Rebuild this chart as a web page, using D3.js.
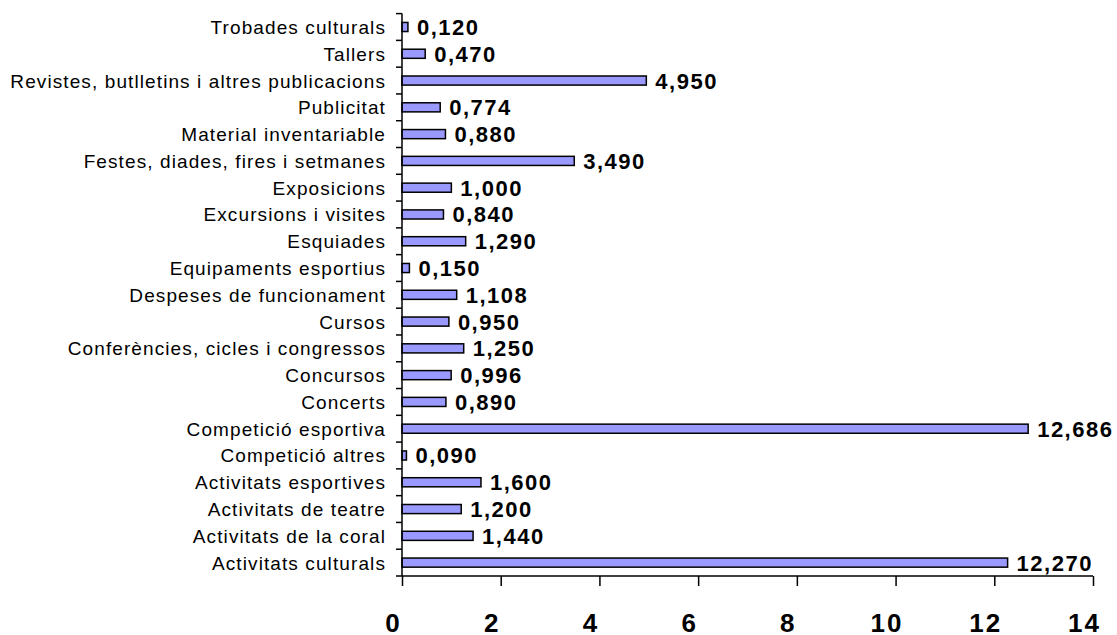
<!DOCTYPE html>
<html>
<head>
<meta charset="utf-8">
<script src="https://cdn.jsdelivr.net/npm/d3@7"></script>
<style>
  html, body { margin: 0; padding: 0; background: #ffffff; }
  svg { display: block; }
</style>
</head>
<body>
<svg id="chart" width="1117" height="635"></svg>
<script>
const categories = [
  "Trobades culturals",
  "Tallers",
  "Revistes, butlletins i altres publicacions",
  "Publicitat",
  "Material inventariable",
  "Festes, diades, fires i setmanes",
  "Exposicions",
  "Excursions i visites",
  "Esquiades",
  "Equipaments esportius",
  "Despeses de funcionament",
  "Cursos",
  "Conferències, cicles i congressos",
  "Concursos",
  "Concerts",
  "Competició esportiva",
  "Competició altres",
  "Activitats esportives",
  "Activitats de teatre",
  "Activitats de la coral",
  "Activitats culturals"
];
const values = [0.120, 0.470, 4.950, 0.774, 0.880, 3.490, 1.000, 0.840, 1.290, 0.150,
                1.108, 0.950, 1.250, 0.996, 0.890, 12.686, 0.090, 1.600, 1.200, 1.440, 12.270];
const xTicks = [0, 2, 4, 6, 8, 10, 12, 14];

const svg = d3.select("#chart");
const plotLeft = 402, plotRight = 1093, plotTop = 13.6, plotBottom = 576;

const x = d3.scaleLinear().domain([0, 14]).range([plotLeft, plotRight]);
const y = d3.scaleBand().domain(categories).range([plotTop, plotBottom]).padding(0);

const fmt = v => v.toFixed(3).replace(".", ",");

// bars
const barH = y.bandwidth() * 0.34;
svg.append("g").selectAll("rect").data(values).join("rect")
  .attr("x", x(0))
  .attr("y", (d, i) => y(categories[i]) + y.bandwidth() / 2 - barH / 2)
  .attr("width", d => x(d) - x(0))
  .attr("height", barH)
  .attr("fill", "#9999FF")
  .attr("stroke", "#000")
  .attr("stroke-width", 1.5);

// value labels
svg.append("g").selectAll("text").data(values).join("text")
  .attr("x", d => x(d) + 9)
  .attr("y", (d, i) => y(categories[i]) + y.bandwidth() / 2 + 8)
  .attr("font-family", "Liberation Sans, Arial, sans-serif")
  .attr("font-size", 22)
  .attr("font-weight", "bold")
  .attr("letter-spacing", "1.5px")
  .attr("fill", "#000")
  .text(d => fmt(d));

// y axis
const yAxisG = svg.append("g");
yAxisG.append("line")
  .attr("x1", plotLeft).attr("x2", plotLeft).attr("y1", plotTop).attr("y2", plotBottom)
  .attr("stroke", "#000").attr("stroke-width", 1.5);
const boundaries = categories.map(c => y(c)).concat([plotBottom]);
yAxisG.selectAll("line.tk").data(boundaries).join("line")
  .attr("class", "tk")
  .attr("x1", plotLeft - 6).attr("x2", plotLeft)
  .attr("y1", d => d).attr("y2", d => d)
  .attr("stroke", "#000").attr("stroke-width", 1.5);
yAxisG.selectAll("text").data(categories).join("text")
  .attr("x", 386)
  .attr("y", c => y(c) + y.bandwidth() / 2 + 7)
  .attr("text-anchor", "end")
  .attr("font-family", "Liberation Sans, Arial, sans-serif")
  .attr("font-size", 19)
  .attr("letter-spacing", "1.1px")
  .attr("fill", "#000")
  .text(c => c);

// x axis
const xAxis = d3.axisBottom(x).tickValues(xTicks).tickSize(10).tickFormat(d3.format("d"));
const xg = svg.append("g").attr("transform", `translate(0,${plotBottom})`).call(xAxis);
xg.select(".domain").attr("stroke", "#000").attr("stroke-width", 1.5)
  .attr("d", `M${plotLeft},0H${plotRight}`);
xg.selectAll(".tick line").attr("stroke", "#000").attr("stroke-width", 1.5);
xg.selectAll(".tick text")
  .attr("y", 56)
  .attr("dy", 0)
  .attr("dx", -9)
  .attr("font-family", "Liberation Sans, Arial, sans-serif")
  .attr("font-size", 26)
  .attr("font-weight", "bold")
  .attr("letter-spacing", "2px")
  .attr("fill", "#000");
</script>
</body>
</html>
